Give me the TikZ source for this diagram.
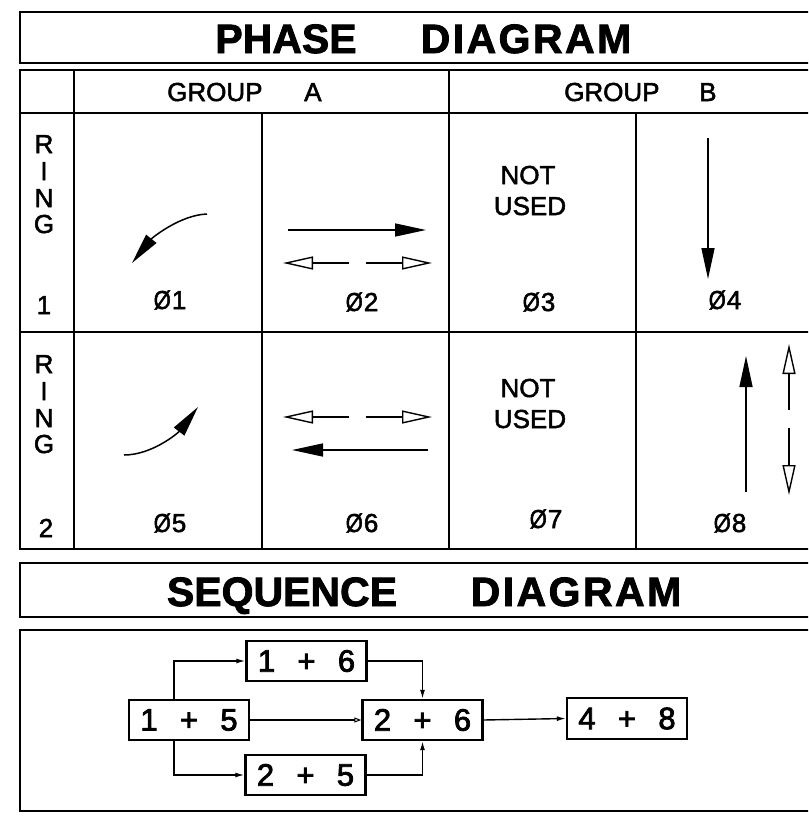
\documentclass[tikz,border=0pt]{standalone}
\usepackage{fontspec}
\usepackage{graphicx}
\setmainfont{Liberation Sans}[FakeBold=2]
\newfontfamily\boxfont{Liberation Sans}[FakeBold=2.5]
\newfontfamily\titlefont{Liberation Sans}[BoldFeatures={FakeBold=2}]
\usetikzlibrary{arrows.meta}
\newcommand\ph{\scalebox{0.85}[1]{Ø}\kern1pt}
\newcommand\sq[3]{\makebox[40pt]{#1}\makebox[40pt]{#2}\makebox[40pt]{#3}}
\newcommand\wide{\addfontfeatures{LetterSpace=6}}
\begin{document}
\begin{tikzpicture}[x=1pt,y=-1pt,
  grid/.style={line width=2.6pt},
  txt/.style={inner sep=0pt,anchor=base,font=\fontsize{26}{26}\selectfont},
  ttl/.style={inner sep=0pt,anchor=base,font=\titlefont\bfseries\fontsize{41}{41}\selectfont},
  shaft/.style={line width=1.5pt},
  solidhead/.style={shaft,-{Triangle[length=31pt,width=13pt]}},
  openhead/.style={shaft,-{Triangle[open,length=30pt,width=13pt,line width=1.4pt]}},
  sbox/.style={draw,line width=2.4pt,inner sep=0pt,minimum height=40pt,font=\boxfont\fontsize{31}{31}\selectfont},
  conn/.style={line width=1.4pt,-{Latex[length=9pt,width=5pt]}},
  connopen/.style={line width=1.4pt,-{Triangle[open,length=7pt,width=5pt,line width=1pt]}}]
\useasboundingbox (0,0) rectangle (808,816);
\clip (0,0) rectangle (808,816);
\fill[white] (0,0) rectangle (808,816);

% ---------- title ----------
\draw[grid] (20,12) rectangle (850,63);
\node[ttl] (ttlA) at (286,53) {PHASE};
\node[ttl] (ttlB) at (526,53) {\wide DIAGRAM};

% ---------- table ----------
\draw[grid] (20,70) rectangle (850,549);
\draw[grid] (20,113) -- (850,113);
\draw[grid] (20,332) -- (850,332);
\draw[grid] (74,70) -- (74,549);
\draw[grid] (449,70) -- (449,549);
\draw[grid] (262,113) -- (262,549);
\draw[grid] (636,113) -- (636,549);

\node[txt,anchor=base west] (gA) at (167,101) {GROUP};
\node[txt,anchor=base west] (gAl) at (304,101) {A};
\node[txt,anchor=base west] (gB) at (564,101) {GROUP};
\node[txt,anchor=base west] (gBl) at (699,101) {B};

% ring labels
\foreach \r/\dy in {1/0,2/220}{
  \node[txt] (R\r) at (44,153+\dy) {R};
  \node[txt] (I\r) at (44,180+\dy) {I};
  \node[txt] (N\r) at (44,207+\dy) {N};
  \node[txt] (G\r) at (44,233+\dy) {G};
}
\node[txt] (one) at (44,314) {1};
\node[txt] (two) at (46,537) {2};

% phase labels
\node[txt] (p1) at (170,309) {\ph1};
\node[txt] (p2) at (362,311) {\ph2};
\node[txt] (p3) at (539,311) {\ph3};
\node[txt] (p4) at (725,309) {\ph4};
\node[txt] (p5) at (170,532) {\ph5};
\node[txt] (p6) at (362,532) {\ph6};
\node[txt] (p7) at (546,528) {\ph7};
\node[txt] (p8) at (730,532) {\ph8};

% not used
\node[txt] (nu1) at (528,184) {NOT};
\node[txt] (nu1b) at (530,215) {USED};
\node[txt] (nu2) at (528,397) {NOT};
\node[txt] (nu2b) at (530,428) {USED};

% ---------- arrows ----------
% phi1
\draw[solidhead] (207,214) .. controls (180,215) and (152,238) .. (132,263);
% phi2
\draw[solidhead] (288,230) -- (426,230);
\draw[openhead] (349,263) -- (283,263);
\draw[openhead] (366,263) -- (432,263);
% phi4
\draw[solidhead] (708,138) -- (708,279);
% phi5
\draw[solidhead] (124,455) .. controls (152,455) and (178,433) .. (198,407);
% phi6
\draw[openhead] (349,417) -- (283,417);
\draw[openhead] (366,417) -- (432,417);
\draw[solidhead] (428,450) -- (292,450);
% phi8
\draw[solidhead] (746,492) -- (746,356);
\draw[openhead] (789,410) -- (789,344);
\draw[openhead] (789,428) -- (789,495);

% ---------- sequence ----------
\draw[grid] (20,563) rectangle (850,617);
\node[ttl] (stA) at (282,606) {SEQUENCE};
\node[ttl] (stB) at (576,606) {\wide DIAGRAM};
\draw[grid] (20,630) rectangle (850,811);

\node[sbox,minimum width=117pt] (s16) at (306.5,661) {\sq1+6};
\node[sbox,minimum width=116pt] (s15) at (189,720) {\sq1+5};
\node[sbox,minimum width=111pt] (s26) at (422.5,720) {\sq2+6};
\node[sbox,minimum width=109pt] (s25) at (305.5,775) {\sq2+5};
\node[sbox,minimum width=118pt,minimum height=41pt] (s48) at (627,718.5) {\sq4+8};
\coordinate (bx) at (174,0);
\draw[conn] (s15.north -| bx) |- (s16.west);
\draw[conn] (s15.south -| bx) |- (s25.west);
\draw[conn] (s16.east) -| (s26.north);
\draw[conn] (s25.east) -| (s26.south);
\draw[connopen] (s15.east) -- (s26.west);
\draw[conn] (s26.east) -- (s48.west);
\end{tikzpicture}
\end{document}
